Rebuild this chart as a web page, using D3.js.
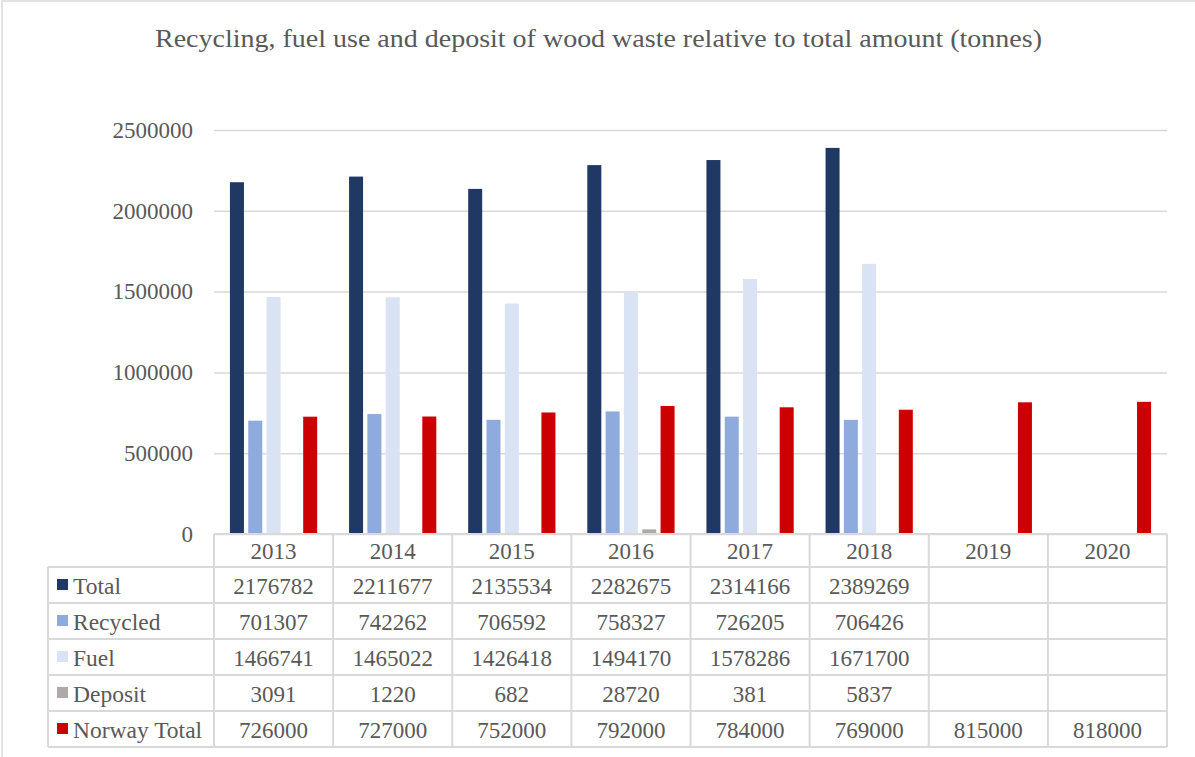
<!DOCTYPE html>
<html><head><meta charset="utf-8">
<script src="https://cdn.jsdelivr.net/npm/d3@7"></script>
<style>html,body{margin:0;padding:0;background:#fff;}svg{display:block;}</style>
</head><body>
<svg id="chart" width="1195" height="757"></svg>
<script>
const title = "Recycling, fuel use and deposit of wood waste relative to total amount (tonnes)";
const categories = ["2013","2014","2015","2016","2017","2018","2019","2020"];
const seriesNames = ["Total","Recycled","Fuel","Deposit","Norway Total"];
const total    = [2176782, 2211677, 2135534, 2282675, 2314166, 2389269, null, null];
const recycled = [701307, 742262, 706592, 758327, 726205, 706426, null, null];
const fuel     = [1466741, 1465022, 1426418, 1494170, 1578286, 1671700, null, null];
const deposit  = [3091, 1220, 682, 28720, 381, 5837, null, null];
const norway   = [726000, 727000, 752000, 792000, 784000, 769000, 815000, 818000];
const yTicks = [0, 500000, 1000000, 1500000, 2000000, 2500000];
const colors = ["#1f3864","#8faadc","#dae3f3","#aeaaaa","#cc0000"];

const seriesValues = [total, recycled, fuel, deposit, norway];

const svg = d3.select("#chart");
const font = "'Liberation Serif','Times New Roman',serif";
const textColor = "#595959";
const lineColor = "#d9d9d9";

const plotL = 214, plotR = 1167, plotT = 130, plotB = 534;
const headerH = 33, rowH = 36, labelL = 48;

// outer frame
svg.append("rect").attr("x",2).attr("y",1).attr("width",1200).attr("height",800)
  .attr("fill","none").attr("stroke",lineColor).attr("stroke-width",1.5);

// title
svg.append("text").attr("x",598.5).attr("y",47).attr("text-anchor","middle")
  .attr("font-family",font).attr("font-size",25).attr("fill",textColor)
  .attr("textLength",887).attr("lengthAdjust","spacingAndGlyphs").text(title);

const x0 = d3.scaleBand().domain(categories).range([plotL, plotR]);
const x1 = d3.scaleBand().domain(seriesNames).range([0, x0.bandwidth()]).paddingInner(0.235).paddingOuter(0.87);
const y = d3.scaleLinear().domain([0, 2500000]).range([plotB, plotT]);

// gridlines
const yAxis = d3.axisLeft(y).tickValues(yTicks).tickSize(-(plotR-plotL)).tickFormat(d3.format("d")).tickPadding(21);
const gy = svg.append("g").attr("transform",`translate(${plotL},0)`).call(yAxis);
gy.select(".domain").remove();
gy.selectAll(".tick line").attr("stroke",lineColor).attr("stroke-width",1.5);
gy.selectAll(".tick text").attr("font-family",font).attr("font-size",23).attr("fill",textColor);

// bars
const groups = svg.append("g").selectAll("g").data(categories).join("g")
  .attr("transform",d=>`translate(${x0(d)},0)`);
groups.selectAll("rect").data((c,i)=>seriesNames.map((s,k)=>({s, v: seriesValues[k][i], k})).filter(d=>d.v!=null))
  .join("rect")
  .attr("x",d=>x1(d.s)).attr("width",x1.bandwidth())
  .attr("y",d=>y(d.v)).attr("height",d=>plotB - y(d.v))
  .attr("fill",d=>colors[d.k]);

// data table
const tbl = svg.append("g");
const tableBottom = plotB + headerH + rowH*seriesNames.length;
tbl.append("line").attr("x1",plotL).attr("x2",plotR).attr("y1",plotB).attr("y2",plotB);
for (let r=0; r<=seriesNames.length; r++){
  const yy = plotB + headerH + rowH*r;
  tbl.append("line").attr("x1",labelL).attr("x2",plotR).attr("y1",yy).attr("y2",yy);
}
tbl.append("line").attr("x1",labelL).attr("x2",labelL).attr("y1",plotB+headerH).attr("y2",tableBottom);
categories.forEach(c=>{
  tbl.append("line").attr("x1",x0(c)).attr("x2",x0(c)).attr("y1",plotB).attr("y2",tableBottom);
});
tbl.append("line").attr("x1",plotR).attr("x2",plotR).attr("y1",plotB).attr("y2",tableBottom);
tbl.selectAll("line").attr("stroke",lineColor).attr("stroke-width",2);

tbl.selectAll("text.hdr").data(categories).join("text").attr("class","hdr")
  .attr("x",d=>x0(d)+x0.bandwidth()/2).attr("y",plotB+headerH/2+1)
  .attr("text-anchor","middle").attr("dominant-baseline","central")
  .attr("font-family",font).attr("font-size",23).attr("fill",textColor).text(d=>d);

seriesNames.forEach((s,k)=>{
  const cy = plotB + headerH + rowH*k + rowH/2;
  tbl.append("rect").attr("x",57).attr("y",cy-6).attr("width",11).attr("height",11).attr("fill",colors[k]);
  tbl.append("text").attr("x",73).attr("y",cy+1).attr("dominant-baseline","central")
    .attr("font-family",font).attr("font-size",23.5).attr("fill",textColor).text(s);
  categories.forEach((c,i)=>{
    const v = seriesValues[k][i];
    if (v==null) return;
    tbl.append("text").attr("x",x0(c)+x0.bandwidth()/2).attr("y",cy+1)
      .attr("text-anchor","middle").attr("dominant-baseline","central")
      .attr("font-family",font).attr("font-size",23).attr("fill",textColor).text(v);
  });
});
</script>
</body></html>
